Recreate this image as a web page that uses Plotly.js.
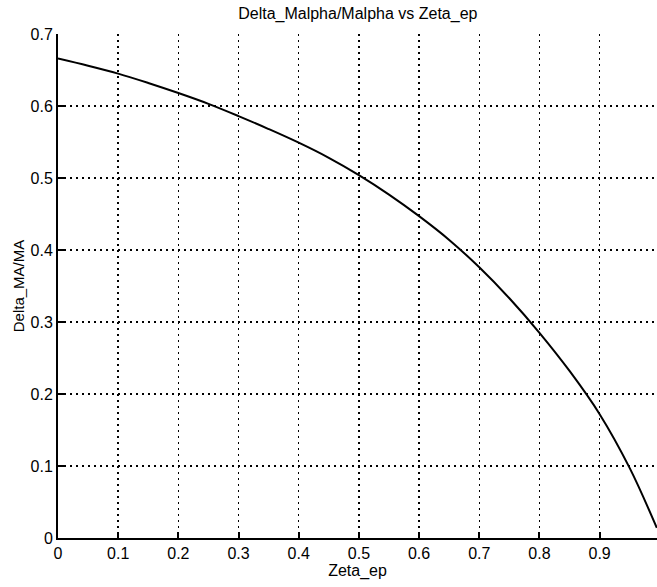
<!DOCTYPE html>
<html>
<head>
<meta charset="utf-8">
<script src="https://cdn.plot.ly/plotly-3.0.1.min.js"></script>
<style>html,body{margin:0;padding:0;background:#fff;}#chart{width:657px;height:587px;}</style>
</head>
<body>
<div id="chart"></div>
<script>
var zeta = [0, 0.05, 0.1, 0.15, 0.2, 0.25, 0.3, 0.35, 0.4, 0.45, 0.5, 0.55, 0.6, 0.65, 0.7, 0.75, 0.8, 0.85, 0.9, 0.95, 0.995];
var ratio = [0.666, 0.656, 0.645, 0.632, 0.618, 0.603, 0.586, 0.568, 0.549, 0.528, 0.504, 0.477, 0.447, 0.414, 0.376, 0.333, 0.285, 0.232, 0.172, 0.097, 0.014];
var xTicks = [0, 0.1, 0.2, 0.3, 0.4, 0.5, 0.6, 0.7, 0.8, 0.9];
var xTickText = ['0', '0.1', '0.2', '0.3', '0.4', '0.5', '0.6', '0.7', '0.8', '0.9'];
var yTicks = [0, 0.1, 0.2, 0.3, 0.4, 0.5, 0.6, 0.7];
var yTickText = ['0', '0.1', '0.2', '0.3', '0.4', '0.5', '0.6', '0.7'];

var font = {family: 'Liberation Sans, Arial, sans-serif', color: '#000'};

Plotly.newPlot('chart', [{
  x: zeta, y: ratio, type: 'scatter', mode: 'lines',
  line: {color: '#000', width: 2, shape: 'spline', smoothing: 1},
  hoverinfo: 'skip', showlegend: false
}], {
  width: 657, height: 587,
  margin: {l: 58, r: 0, t: 34, b: 49, pad: 0},
  paper_bgcolor: '#fff', plot_bgcolor: '#fff',
  font: Object.assign({size: 16}, font),
  title: {text: 'Delta_Malpha/Malpha vs Zeta_ep', font: Object.assign({size: 16}, font),
          x: 0.5446, xref: 'container', xanchor: 'center', y: 0.977, yref: 'container', yanchor: 'middle'},
  xaxis: {
    range: [0, 0.9953], tickvals: xTicks, ticktext: xTickText,
    showgrid: true, gridcolor: '#000', gridwidth: 1.5, griddash: '2px,4px',
    showline: true, linecolor: '#000', linewidth: 2,
    ticks: 'inside', ticklen: 6, tickwidth: 2, tickcolor: '#000',
    zeroline: false, automargin: false,
    tickfont: Object.assign({size: 16}, font),
    title: {text: 'Zeta_ep', font: Object.assign({size: 16}, font), standoff: 2}
  },
  yaxis: {
    range: [0, 0.7], tickvals: yTicks, ticktext: yTickText,
    showgrid: true, gridcolor: '#000', gridwidth: 1.5, griddash: '2px,4px',
    showline: true, linecolor: '#000', linewidth: 2,
    ticks: 'inside', ticklen: 6, tickwidth: 2, tickcolor: '#000',
    zeroline: false, automargin: false,
    tickfont: Object.assign({size: 16}, font),
    title: {text: 'Delta_MA/MA', font: Object.assign({size: 15}, font), standoff: 2}
  }
}, {staticPlot: true, displayModeBar: false});
</script>
</body>
</html>
